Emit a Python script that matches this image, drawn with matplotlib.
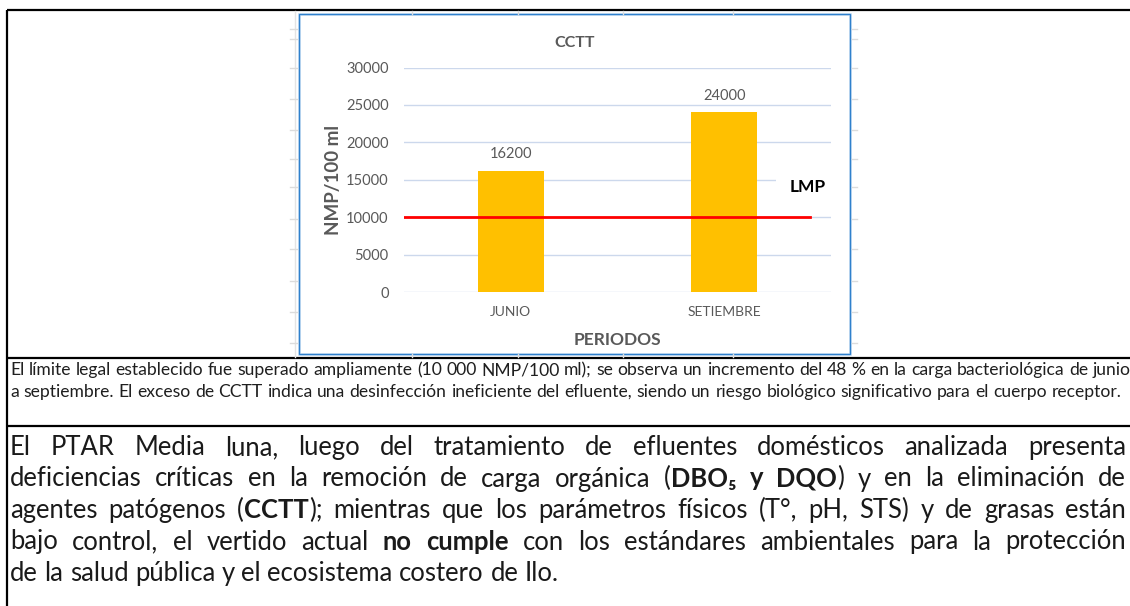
import matplotlib
matplotlib.use("Agg")
import matplotlib.pyplot as plt
from matplotlib.patches import Rectangle

# chart data
periods = ["JUNIO", "SETIEMBRE"]
cctt = [16200, 24000]
lmp = 10000
y_ticks = [0, 5000, 10000, 15000, 20000, 25000, 30000]

title = "CCTT"
y_label = "NMP/100 ml"
x_label = "PERIODOS"
lmp_label = "LMP"

# text of the table rows (** marks bold)
caption_lines = [
    "El límite legal establecido fue superado ampliamente (10 000 NMP/100 ml); se observa un incremento del 48 % en la carga bacteriológica de junio",
    "a septiembre. El exceso de CCTT indica una desinfección ineficiente del efluente, siendo un riesgo biológico significativo para el cuerpo receptor.",
]
paragraph_lines = [
    "El PTAR Media luna, luego del tratamiento de efluentes domésticos analizada presenta",
    "deficiencias críticas en la remoción de carga orgánica (**DBO₅ y DQO**) y en la eliminación de",
    "agentes patógenos (**CCTT**); mientras que los parámetros físicos (T°, pH, STS) y de grasas están",
    "bajo control, el vertido actual **no cumple** con los estándares ambientales para la protección",
    "de la salud pública y el ecosistema costero de Ilo.",
]

W, H = 1130, 606
plt.rcParams['font.family'] = ['Lato', 'DejaVu Sans']
GREY = '#595959'

fig = plt.figure(figsize=(W / 100, H / 100), dpi=100)
renderer = fig.canvas.get_renderer()

# page axes in pixel units, y down
page = fig.add_axes([0, 0, 1, 1])
page.set_xlim(0, W)
page.set_ylim(H, 0)
page.axis('off')

# table borders
for y in (10, 357.5, 426):
    page.plot([7, W], [y, y], color='black', lw=1.6, solid_capstyle='butt')
page.plot([7, 7], [10, H], color='black', lw=1.6, solid_capstyle='butt')

# faint spreadsheet cells behind the chart
page.plot([295, 295], [11, 357], color='#e4e4e4', lw=1)
for y in (29, 39, 68, 99, 130, 159, 187, 219, 249, 281, 312, 343):
    page.plot([290, 297], [y, y], color='#dcdcdc', lw=1)
    page.plot([852, 857], [y, y], color='#dcdcdc', lw=1)
for x in (412, 518, 623, 733):
    page.plot([x, x], [11, 14], color='#dcdcdc', lw=1)
    page.plot([x, x], [354, 357], color='#dcdcdc', lw=1)

# chart frame
page.add_patch(Rectangle((299, 14), 551, 340, fc='white', ec='#b4d2ee', lw=1.8))
page.add_patch(Rectangle((299, 14), 551, 340, fc='none', ec='#2f80cc', lw=0.9))


def px_axes(x0, y0, x1, y1):
    return fig.add_axes([x0 / W, 1 - y1 / H, (x1 - x0) / W, (y1 - y0) / H])


ax = px_axes(404, 67.5, 831, 292)
ax.patch.set_alpha(0)
pos = list(range(len(periods)))
bars = ax.bar(pos, cctt, width=0.31, color='#FFC000', zorder=2)
ax.set_xlim(-0.5, 1.5)
ax.set_ylim(0, 30000)
ax.set_yticks(y_ticks)
ax.set_xticks(pos)
ax.set_xticklabels(periods)
for s in ax.spines.values():
    s.set_visible(False)
ax.tick_params(axis='y', length=0, colors=GREY, labelsize=10.5, pad=11)
ax.tick_params(axis='x', length=0, colors=GREY, labelsize=10, pad=10)
ax.yaxis.grid(True, color='#ccd8ec', lw=1)
ax.set_axisbelow(True)
ax.bar_label(bars, padding=7, color=GREY, fontsize=10.5)
ax.axhline(lmp, xmin=0, xmax=0.951, color='#ff0000', lw=2, zorder=3)
ax.text(0.946, 0.4675, lmp_label, transform=ax.transAxes, ha='center', va='center',
        fontsize=12.5, fontweight='bold', color='black', zorder=4,
        bbox=dict(boxstyle='square,pad=0.8', fc='white', ec='none'))

page.text(574.5, 43, title, ha='center', va='center', fontsize=11.5, fontweight='bold', color=GREY)
page.text(333, 180, y_label, ha='center', va='center', rotation=90, fontsize=13.5,
          fontweight='bold', color=GREY)
page.text(617.5, 340, x_label, ha='center', va='center', fontsize=12.5, fontweight='bold', color=GREY)


def words_of(line):
    words = [[]]
    for i, part in enumerate(line.split('**')):
        bold = i % 2 == 1
        for j, chunk in enumerate(part.split(' ')):
            if j > 0:
                words.append([])
            if chunk:
                words[-1].append((chunk, bold))
    return [w for w in words if w]


def width_of(s, size, bold=False):
    t = page.text(0, 0, s, fontsize=size, fontweight='bold' if bold else 'normal')
    w = t.get_window_extent(renderer).width
    t.remove()
    return w


def fit_size(line, target, ref=10):
    return ref * target / width_of(line.replace('**', ''), ref)


def draw_line(y, line, size, x0, x1=None, color='black'):
    items, widths = [], []
    for word in words_of(line):
        ts = [page.text(0, y, s, fontsize=size, fontweight='bold' if b else 'normal',
                        va='baseline', ha='left', color=color) for s, b in word]
        items.append(ts)
        widths.append([t.get_window_extent(renderer).width for t in ts])
    total = sum(sum(w) for w in widths)
    if x1 is None:
        gap = width_of('x x', size) - width_of('xx', size)
    else:
        gap = (x1 - x0 - total) / (len(items) - 1)
    x = x0
    for ts, ws in zip(items, widths):
        for t, w in zip(ts, ws):
            t.set_x(x)
            x += w
        x += gap


text_left, text_right = 10, 1126

cap_size = fit_size(caption_lines[0], text_right - text_left)
for i, line in enumerate(caption_lines):
    draw_line(375 + 22 * i, line, cap_size, text_left, color='#1f1f1f')

# the densest line sets the paragraph size, the others are justified
para_size = fit_size(paragraph_lines[2], 1050)
for i, line in enumerate(paragraph_lines):
    last = i == len(paragraph_lines) - 1
    draw_line(455 + 31.5 * i, line, para_size, text_left, None if last else text_right, color='#1a1a1a')

fig.savefig('out.png', dpi=100)
